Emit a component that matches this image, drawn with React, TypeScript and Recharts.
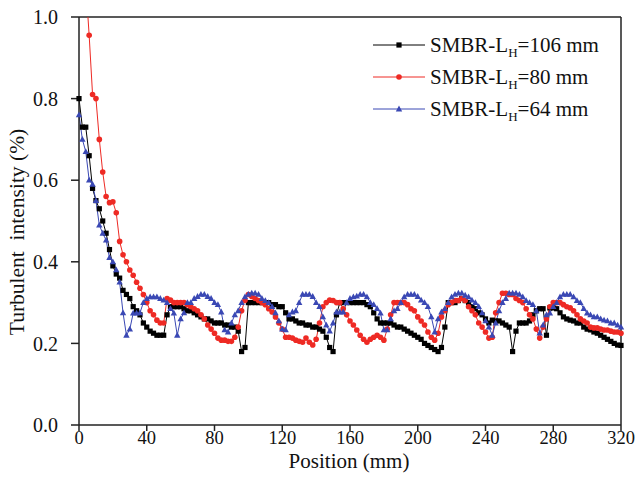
import { LineChart, Line, XAxis, YAxis, ReferenceLine } from 'recharts';

// turbulent intensity profiles along the reactor, one reading every 2 mm
const STEP_MM = 2;

const LH106 = [
  0.80, 0.73, 0.73, 0.66, 0.58, 0.55, 0.53, 0.50, 0.47, 0.43,
  0.39, 0.37, 0.36, 0.33, 0.32, 0.31, 0.29, 0.28, 0.27, 0.25,
  0.24, 0.23, 0.225, 0.22, 0.22, 0.22, 0.27, 0.29, 0.29, 0.29,
  0.29, 0.285, 0.28, 0.28, 0.275, 0.27, 0.265, 0.26, 0.26, 0.255,
  0.25, 0.25, 0.25, 0.245, 0.245, 0.24, 0.24, 0.23, 0.18, 0.19,
  0.30, 0.30, 0.30, 0.30, 0.30, 0.30, 0.30, 0.295, 0.295, 0.29,
  0.29, 0.275, 0.26, 0.26, 0.255, 0.25, 0.25, 0.245, 0.245, 0.24,
  0.24, 0.235, 0.23, 0.215, 0.19, 0.18, 0.27, 0.30, 0.30, 0.30,
  0.30, 0.30, 0.30, 0.30, 0.30, 0.295, 0.29, 0.275, 0.26, 0.25,
  0.25, 0.25, 0.25, 0.245, 0.24, 0.24, 0.235, 0.23, 0.225, 0.22,
  0.215, 0.21, 0.20, 0.195, 0.19, 0.185, 0.18, 0.19, 0.24, 0.30,
  0.30, 0.30, 0.305, 0.31, 0.305, 0.30, 0.29, 0.285, 0.275, 0.27,
  0.26, 0.25, 0.257, 0.255, 0.255, 0.25, 0.245, 0.24, 0.18, 0.23,
  0.25, 0.25, 0.25, 0.255, 0.27, 0.28, 0.285, 0.285, 0.22, 0.287,
  0.287, 0.285, 0.275, 0.265, 0.26, 0.257, 0.255, 0.25, 0.25, 0.24,
  0.235, 0.233, 0.228, 0.225, 0.22, 0.215, 0.21, 0.205, 0.20, 0.196,
  0.195,
];

const LH80 = [
  1.45, 1.25, 1.08, 0.955, 0.81, 0.80, 0.70, 0.62, 0.56, 0.545,
  0.547, 0.52, 0.45, 0.417, 0.40, 0.38, 0.367, 0.35, 0.335, 0.32,
  0.30, 0.28, 0.27, 0.257, 0.25, 0.25, 0.31, 0.306, 0.30, 0.30,
  0.30, 0.30, 0.295, 0.29, 0.285, 0.28, 0.27, 0.26, 0.245, 0.235,
  0.225, 0.213, 0.208, 0.208, 0.205, 0.205, 0.215, 0.24, 0.28, 0.306,
  0.32, 0.315, 0.31, 0.305, 0.30, 0.295, 0.285, 0.277, 0.265, 0.25,
  0.235, 0.215, 0.215, 0.213, 0.208, 0.205, 0.203, 0.213, 0.203, 0.196,
  0.21, 0.25, 0.29, 0.30, 0.306, 0.305, 0.30, 0.30, 0.285, 0.27,
  0.255, 0.245, 0.233, 0.22, 0.21, 0.203, 0.21, 0.215, 0.22, 0.215,
  0.208, 0.235, 0.27, 0.30, 0.30, 0.30, 0.30, 0.295, 0.285, 0.28,
  0.265, 0.255, 0.245, 0.228, 0.215, 0.208, 0.225, 0.265, 0.28, 0.295,
  0.30, 0.305, 0.305, 0.31, 0.305, 0.29, 0.28, 0.27, 0.25, 0.24,
  0.228, 0.213, 0.215, 0.275, 0.30, 0.323, 0.323, 0.32, 0.32, 0.31,
  0.305, 0.30, 0.285, 0.27, 0.26, 0.235, 0.213, 0.24, 0.26, 0.29,
  0.30, 0.30, 0.30, 0.295, 0.29, 0.287, 0.28, 0.27, 0.26, 0.255,
  0.25, 0.24, 0.238, 0.238, 0.235, 0.233, 0.233, 0.23, 0.228, 0.228,
  0.225,
];

const LH64 = [
  0.76, 0.70, 0.67, 0.60, 0.59, 0.55, 0.49, 0.47, 0.453, 0.41,
  0.40, 0.38, 0.35, 0.275, 0.22, 0.235, 0.274, 0.274, 0.275, 0.30,
  0.31, 0.314, 0.314, 0.314, 0.31, 0.306, 0.30, 0.285, 0.274, 0.22,
  0.26, 0.275, 0.30, 0.30, 0.31, 0.315, 0.32, 0.32, 0.315, 0.31,
  0.30, 0.295, 0.277, 0.233, 0.228, 0.25, 0.27, 0.28, 0.30, 0.314,
  0.32, 0.323, 0.323, 0.32, 0.31, 0.305, 0.30, 0.29, 0.275, 0.255,
  0.235, 0.233, 0.27, 0.277, 0.28, 0.30, 0.32, 0.32, 0.32, 0.315,
  0.30, 0.29, 0.265, 0.245, 0.23, 0.25, 0.277, 0.277, 0.277, 0.30,
  0.31, 0.314, 0.316, 0.32, 0.32, 0.314, 0.30, 0.295, 0.285, 0.274,
  0.233, 0.233, 0.26, 0.28, 0.285, 0.30, 0.314, 0.32, 0.32, 0.32,
  0.315, 0.306, 0.30, 0.29, 0.265, 0.228, 0.26, 0.277, 0.285, 0.30,
  0.314, 0.32, 0.323, 0.323, 0.318, 0.314, 0.306, 0.30, 0.29, 0.275,
  0.255, 0.24, 0.22, 0.25, 0.28, 0.30, 0.31, 0.323, 0.323, 0.323,
  0.32, 0.314, 0.305, 0.30, 0.295, 0.28, 0.225, 0.245, 0.27, 0.274,
  0.29, 0.30, 0.314, 0.32, 0.32, 0.32, 0.314, 0.305, 0.30, 0.285,
  0.274, 0.27, 0.265, 0.265, 0.26, 0.257, 0.255, 0.25, 0.25, 0.245,
  0.24,
];

const X_TICKS = [0, 40, 80, 120, 160, 200, 240, 280, 320];
const Y_TICKS = [0, 0.2, 0.4, 0.6, 0.8, 1.0];

const SERIES = [
  { key: 'lh106', label: '106 mm', color: '#000000', shape: 'square' },
  { key: 'lh80', label: '80 mm', color: '#ee2a24', shape: 'circle' },
  { key: 'lh64', label: '64 mm', color: '#3a48b4', shape: 'triangle' },
];

const data = LH106.map((v, i) => ({
  x: i * STEP_MM,
  lh106: v,
  lh80: LH80[i],
  lh64: LH64[i],
}));

const FONT = '"Liberation Serif", "Times New Roman", serif';

function Marker({ shape, color, cx, cy }: { shape: string; color: string; cx: number; cy: number }) {
  if (shape === 'square') {
    return <rect x={cx - 2.6} y={cy - 2.6} width={5.2} height={5.2} fill={color} />;
  }
  if (shape === 'circle') {
    return <circle cx={cx} cy={cy} r={2.8} fill={color} />;
  }
  return (
    <polygon
      points={`${cx},${cy - 3.4} ${cx + 3.2},${cy + 2.4} ${cx - 3.2},${cy + 2.4}`}
      fill={color}
    />
  );
}

function makeDot(shape: string, color: string) {
  return (props: any) => {
    const { cx, cy, index } = props;
    if (cx == null || cy == null) return <g key={`${shape}-${index}`} />;
    return (
      <g key={`${shape}-${index}`}>
        <Marker shape={shape} color={color} cx={cx} cy={cy} />
      </g>
    );
  };
}

// legend kept outside the chart so it does not eat into the plot area
function LegendBox() {
  return (
    <div
      style={{
        position: 'absolute',
        left: 373,
        top: 29,
        fontFamily: FONT,
        fontSize: 21,
        color: '#111',
      }}
    >
      {SERIES.map(s => (
        <div key={s.key} style={{ display: 'flex', alignItems: 'center', height: 32 }}>
          <svg width={52} height={12} style={{ display: 'block' }}>
            <line x1={0} y1={6} x2={52} y2={6} stroke={s.color} strokeWidth={1} />
            <Marker shape={s.shape} color={s.color} cx={26} cy={6} />
          </svg>
          <span style={{ marginLeft: 5, whiteSpace: 'nowrap', lineHeight: '21px' }}>
            SMBR-L
            <sub style={{ fontSize: 13, verticalAlign: '-5px', lineHeight: 0 }}>H</sub>
            ={s.label}
          </span>
        </div>
      ))}
    </div>
  );
}

export default function App() {
  return (
    <div style={{ position: 'absolute', left: 0, top: 0, width: 638, height: 494, background: '#fff' }}>
      <LineChart
        width={638}
        height={494}
        data={data}
        margin={{ top: 17, right: 17, bottom: 0, left: 0 }}
      >
        <XAxis
          dataKey="x"
          type="number"
          domain={[0, 320]}
          ticks={X_TICKS}
          height={69}
          tickSize={6}
          tickMargin={0}
          tick={{ fill: '#111', fontSize: 18.5, fontFamily: FONT }}
          axisLine={{ stroke: '#222', strokeWidth: 1.5 }}
          tickLine={{ stroke: '#222', strokeWidth: 1.5 }}
        />
        <YAxis
          type="number"
          domain={[0, 1]}
          allowDataOverflow
          ticks={Y_TICKS}
          width={79}
          tickSize={8}
          tickMargin={13}
          tickFormatter={v => v.toFixed(1)}
          tick={{ fill: '#111', fontSize: 20, fontFamily: FONT }}
          axisLine={{ stroke: '#222', strokeWidth: 1.5 }}
          tickLine={{ stroke: '#222', strokeWidth: 1.5 }}
        />
        <ReferenceLine y={1} stroke="#222" strokeWidth={1.5} />
        <ReferenceLine x={320} stroke="#222" strokeWidth={1.5} />
        {SERIES.map(s => (
          <Line
            key={s.key}
            dataKey={s.key}
            type="linear"
            stroke={s.color}
            strokeWidth={1}
            dot={makeDot(s.shape, s.color)}
            activeDot={false}
            isAnimationActive={false}
          />
        ))}
      </LineChart>
      <LegendBox />
      <div
        style={{
          position: 'absolute',
          left: 349,
          top: 455,
          transform: 'translateX(-50%)',
          fontFamily: FONT,
          fontSize: 21,
          lineHeight: '12px',
          color: '#111',
          whiteSpace: 'nowrap',
        }}
      >
        Position (mm)
      </div>
      <div
        style={{
          position: 'absolute',
          left: 17,
          top: 232,
          transform: 'translate(-50%, -50%) rotate(-90deg)',
          fontFamily: FONT,
          fontSize: 21.5,
          lineHeight: '22px',
          color: '#111',
          whiteSpace: 'pre',
        }}
      >
        {'Turbulent  intensity (%)'}
      </div>
    </div>
  );
}
